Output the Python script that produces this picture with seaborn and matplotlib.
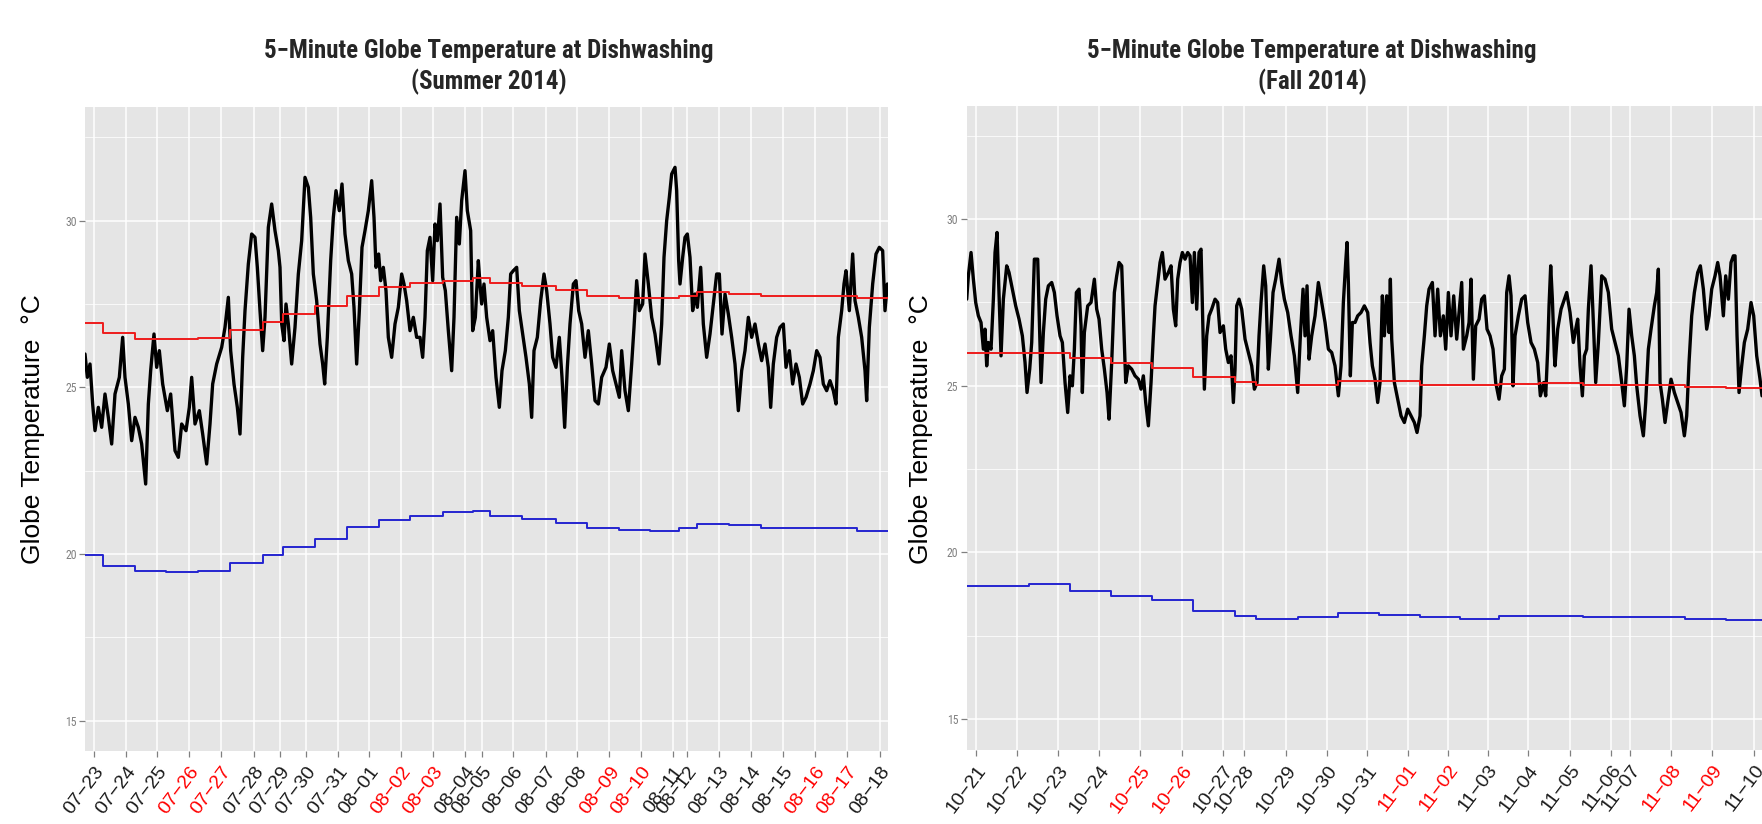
import matplotlib
matplotlib.use("Agg")
import matplotlib.pyplot as plt
from matplotlib import font_manager
import numpy as np
import pandas as pd
import seaborn as sns

# ---------------- data (x = 5-minute observation index) ----------------
summer_idx = [0,21,45,69,90,120,150,180,210,240,270,309,339,360,390,420,450,480,510,546,
              570,591,621,645,669,699,741,771,810,840,870,909,939,960,990,1029,1059,1095,1125,1149,
              1185,1230,1260,1290,1311,1341,1371,1395,1419,1440,1470,1500,1530,1551,1575,1599,1620,1650,1680,1710,1740,
              1755,1770,1791,1809,1830,1860,1890,1920,1950,1980,2010,2031,2055,2085,2115,2139,2157,2181,2211,2235,
              2259,2289,2313,2340,2370,2400,2421,2445,2469,2493,2520,2550,2580,2601,2619,2643,2661,2685,2709,2730,
              2760,2790,2820,2850,2871,2895,2925,2955,2985,3015,3039,3060,3081,3105,3129,3150,3171,3195,3219,3243,
              3270,3300,3321,3345,3369,3390,3420,3441,3471,3489,3513,3540,
              3555,3570,3591,3615,3645,3669,3699,3729,3753,3783,3810,3831,3855,3885,3909,3939,3969,3999,4020,4041,
              4071,4101,4131,4155,4185,4209,4239,4269,4293,4317,4341,4365,4395,4419,4443,4470,4500,4530,4560,4590,
              4620,4650,4689,4719,4749,4779,4809,4830,4860,4890,4920,4941,4965,4989,5019,5040,5070,5100,5130,5166,
              5190,5211,5235,5259,5280,5310,5325,5343,
              5355,5379,5400,5421,5445,5469,5490,5511,5541,5565,5595,5625,5655,5685,5709,5733,5760,5790,5820,5850,
              5880,5910,5940,5970,6000,6030,6060,6090,6120,6150,6171,6195,6225,6255,6285,6309,6339,6369,6399,6429,
              6459,6489,6525,6555,6585,6615,6645,6675,6705,6735,6759,6780,6810,6831,6849,6879,6909,6930,6960,6990,
              7020,7035,7059,7089,7119,7149,7179,7200,7221]
summer_temp = [26.0,25.3,25.7,24.5,23.7,24.4,23.8,24.8,24.1,23.3,24.8,25.3,26.5,25.3,24.5,23.4,24.1,23.8,23.3,22.1,
               24.5,25.5,26.6,25.6,26.1,25.1,24.3,24.8,23.1,22.9,23.9,23.7,24.4,25.3,23.9,24.3,23.6,22.7,23.9,25.1,
               25.7,26.2,26.8,27.7,26.1,25.1,24.4,23.6,25.9,27.3,28.7,29.6,29.5,28.6,27.3,26.1,27.1,29.8,30.5,29.7,29.1,
               28.6,26.9,26.4,27.5,26.9,25.7,26.8,28.4,29.4,31.3,31.0,30.1,28.4,27.6,26.3,25.7,25.1,26.5,28.8,30.1,
               30.9,30.3,31.1,29.6,28.8,28.4,27.4,25.7,27.3,29.2,29.7,30.3,31.2,30.1,28.6,29.0,28.2,28.6,27.9,26.5,
               25.9,26.9,27.4,28.4,28.1,27.6,26.7,27.1,26.5,26.5,25.9,27.1,29.1,29.5,28.2,29.9,29.4,30.5,28.3,27.9,
               26.7,25.5,27.1,30.1,29.3,30.6,31.5,30.3,29.7,26.7,27.1,28.8,
               28.1,27.5,28.1,27.1,26.4,26.7,25.3,24.4,25.5,26.1,27.1,28.4,28.5,28.6,27.3,26.6,25.9,25.1,24.1,26.1,
               26.5,27.6,28.4,27.9,26.9,25.9,25.6,26.5,25.3,23.8,25.6,26.9,28.1,28.2,27.3,26.9,25.9,26.7,25.7,24.6,
               24.5,25.3,25.6,26.3,25.5,25.1,24.7,26.1,24.9,24.3,25.7,26.8,28.2,27.3,27.5,29.0,28.1,27.1,26.6,25.7,
               26.9,28.9,30.0,30.7,31.4,31.6,30.9,28.8,
               28.1,28.9,29.5,29.6,28.9,27.3,27.8,27.4,28.6,26.9,25.9,26.6,27.5,28.4,28.4,26.6,27.8,27.2,26.5,25.7,
               24.3,25.5,26.1,27.1,26.5,26.9,26.3,25.8,26.3,25.6,24.4,25.7,26.5,26.8,26.9,25.6,26.1,25.1,25.7,25.3,
               24.5,24.7,25.1,25.5,26.1,25.9,25.1,24.9,25.2,24.9,24.5,26.5,27.3,28.1,28.5,27.3,29.0,27.6,27.1,26.5,
               25.5,24.6,26.8,28.1,29.0,29.2,29.1,27.3,28.1]

fall_idx = [0,15,39,60,81,105,129,150,165,180,195,219,240,255,273,291,309,330,360,381,
            411,441,471,501,525,543,567,585,609,639,651,669,690,711,735,765,789,813,840,861,
            885,909,930,951,969,987,1011,1029,1041,1059,1089,1119,1149,1170,1191,1215,1239,1263,1281,1305,
            1329,1350,1371,1395,1410,1431,1455,1485,1515,1545,1569,1590,1611,1635,1659,1680,
            1695,1719,1740,1761,1785,1815,1839,1860,1881,1899,1920,1941,1965,1989,2010,2031,2049,2070,2091,2109,
            2121,2139,2160,2181,2205,2235,2259,2280,2310,2331,2355,2379,2400,2415,2430,2451,2475,2505,2535,2565,
            2589,2613,2631,2649,2673,2691,2715,2733,2757,2781,2811,2835,2859,2889,2919,2949,2979,3003,3027,3045,
            3063,3081,3105,3135,3165,3195,3225,3255,3285,3315,3345,3369,3390,3411,3423,3435,3453,3471,
            3495,3519,3549,3579,3609,3630,3651,3675,3699,3720,3741,3759,3780,3801,3813,3825,3849,3879,3909,3939,
            3969,3999,4029,4053,4080,4095,4119,4140,4161,4191,4215,4239,4263,4290,4311,4335,4359,4383,4410,4431,
            4455,4470,4500,4521,4539,4560,4581,4611,4635,4659,4683,4710,4737,4761,4791,4815,4839,4860,4881,4899,
            4917,4935,4965,4995,5025,5049,5079,5109,5139,5163,5193,5211,5229,5241,5256,5271,5289,
            5295,5319,5349,5379,5400,5430,5460,5481,5499,5520,5541,5559,5580,5595,5619,5640,5661,5685,5715,5745,
            5775,5805,5835,5865,5895,5919,5940,5961,5985,6009,6030,6060,6090,6111,6135,6159,6189,6210,6225,6240,
            6261,6285,6309,6339,6369,6399,6429,6459,6480,6501,6525,6549,6579,6603,6630,6660,6681,6705,6735,6759,
            6780,6810,6831,6855,6879,6900,6915,6933,6951,6975,6999,7029,7059,7083,7110,7140,7158]
fall_temp = [27.6,28.3,29.0,28.2,27.5,27.1,26.9,26.1,26.7,25.6,26.3,26.1,27.6,29.0,29.6,27.8,25.9,27.6,28.6,28.4,
             27.9,27.4,27.0,26.5,25.7,24.8,25.5,26.3,28.8,28.8,27.3,25.1,26.6,27.6,28.0,28.1,27.8,27.1,26.5,26.3,
             25.1,24.2,25.3,25.0,26.1,27.8,27.9,26.8,24.8,26.6,27.4,27.5,28.2,27.3,27.0,26.1,25.5,24.8,24.0,25.7,
             27.8,28.3,28.7,28.6,27.1,25.1,25.6,25.5,25.3,25.2,24.9,25.3,24.5,23.8,25.1,26.5,
             27.4,28.1,28.7,29.0,28.2,28.4,28.6,27.3,26.8,28.2,28.7,29.0,28.8,29.0,28.9,27.5,29.0,27.3,29.0,29.1,
             27.4,24.9,26.5,27.1,27.3,27.6,27.5,26.6,26.8,26.1,25.7,25.9,24.5,25.5,27.4,27.6,27.3,26.4,26.0,25.6,
             24.9,25.1,26.5,27.5,28.6,28.0,25.5,26.4,27.8,28.2,28.8,28.1,27.6,27.2,26.5,25.9,24.8,26.5,27.9,26.5,
             28.0,25.8,26.5,27.1,28.1,27.5,26.9,26.1,26.0,25.6,24.7,25.6,27.5,28.7,29.3,28.1,25.3,26.9,
             26.9,27.1,27.2,27.4,27.2,26.3,25.6,25.2,24.5,25.1,27.7,26.5,27.7,26.6,28.2,26.4,25.1,24.6,24.1,23.9,
             24.3,24.1,23.9,23.6,24.1,25.6,26.5,27.4,27.9,28.1,26.5,27.9,26.5,27.1,26.1,27.8,26.5,27.7,26.4,27.2,
             28.1,26.1,26.5,26.9,28.2,25.2,26.8,27.0,27.6,27.7,26.7,26.5,26.1,25.1,24.6,25.3,25.5,27.8,28.3,27.7,
             25.0,26.5,27.1,27.6,27.7,26.9,26.3,26.1,25.7,24.7,25.1,24.7,26.1,27.4,28.6,27.6,25.9,
             25.6,26.7,27.3,27.6,27.8,27.2,26.3,26.7,27.0,25.6,24.7,25.9,26.1,27.3,28.6,26.9,25.1,26.3,28.3,28.2,
             27.8,26.7,26.3,25.9,25.1,24.4,25.6,27.3,26.5,25.9,25.0,24.1,23.5,24.5,26.1,26.7,27.4,27.8,28.5,25.1,
             24.6,23.9,24.5,25.2,24.8,24.5,24.2,23.5,24.1,25.7,27.1,27.8,28.4,28.6,27.9,26.7,27.1,27.9,28.3,28.7,
             28.3,27.1,28.3,27.6,28.7,28.9,28.9,26.5,24.8,25.6,26.3,26.7,27.5,27.1,25.9,25.2,24.7]

# daily step series (edges in observation index, one level per segment)
summer_edges = [159,450,729,1017,1305,1602,1782,2070,2358,2643,2921,3219,3489,3645,3933,4235,4514,4803,
                5085,5342,5508,5792,6084,6372,6660,6948]
summer_red = [26.92,26.64,26.44,26.44,26.47,26.71,26.96,27.20,27.44,27.75,28.00,28.12,28.20,28.29,28.12,
              28.04,27.92,27.75,27.68,27.68,27.75,27.87,27.80,27.75,27.75,27.75,27.68]
summer_blue = [19.98,19.65,19.49,19.45,19.49,19.74,19.98,20.21,20.45,20.81,21.01,21.14,21.25,21.29,21.14,
               21.06,20.93,20.77,20.73,20.69,20.77,20.90,20.86,20.78,20.78,20.78,20.69]
fall_edges = [189,563,932,1299,1668,2041,2415,2608,2979,3346,3708,4080,4440,4791,5151,5547,5907,6078,6465,6838]
fall_red = [25.99,25.99,25.99,25.82,25.69,25.52,25.25,25.10,25.02,25.02,25.13,25.13,25.02,25.02,25.04,
            25.09,25.02,25.02,25.02,24.97,24.94]
fall_blue = [19.00,19.00,19.05,18.85,18.69,18.57,18.25,18.09,18.01,18.05,18.17,18.12,18.05,18.01,18.09,
             18.09,18.05,18.05,18.05,18.01,17.97]

# tick breaks (observation index of each date) and dates
summer_ticks = [81,369,645,933,1221,1521,1755,1989,2280,2553,2841,3129,3420,3570,3849,4149,4431,4719,
                5007,5295,5421,5709,5997,6279,6567,6861,7155]
summer_dates = pd.date_range("2014-07-23", "2014-08-18", freq="D")
fall_ticks = [81,455,824,1191,1560,1935,2304,2496,2871,3240,3600,3969,4334,4689,5054,5430,5799,5970,
              6339,6710,7088]
fall_dates = pd.date_range("2014-10-21", "2014-11-10", freq="D")

titles = ["5\u2212Minute Globe Temperature at Dishwashing\n(Summer 2014)",
          "5\u2212Minute Globe Temperature at Dishwashing\n(Fall 2014)"]
ylabel = "Globe Temperature  \u00b0C"

# ---------------- styling ----------------
sns.set_theme(style="darkgrid")
plt.rcParams['font.family'] = ['Liberation Sans', 'DejaVu Sans']

def have(name):
    try:
        font_manager.findfont(font_manager.FontProperties(family=name), fallback_to_default=False)
        return True
    except Exception:
        return False

narrow = None
for cand in ['Liberation Sans Narrow', 'Roboto Condensed', 'Open Sans Condensed']:
    if have(cand):
        narrow = cand
        break
title_family = [narrow, 'Liberation Sans'] if narrow else ['Liberation Sans']
title_size = 18 if narrow else 15.8

W, H = 1762, 824
fig = plt.figure(figsize=(W / 100, H / 100), dpi=100)
fig.patch.set_facecolor("white")

XMAX = 7227
YLIM = (14.09, 33.41)

panels = [
    dict(rect=[85 / W, 1 - 751 / H, 803 / W, 644 / H], idx=summer_idx, temp=summer_temp,
         edges=summer_edges, red=summer_red, blue=summer_blue, ticks=summer_ticks, dates=summer_dates,
         title=titles[0], tx=489, lx=33),
    dict(rect=[966.7 / W, 1 - 749.5 / H, 803 / W, 644 / H], idx=fall_idx, temp=fall_temp,
         edges=fall_edges, red=fall_red, blue=fall_blue, ticks=fall_ticks, dates=fall_dates,
         title=titles[1], tx=1312, lx=921),
]

for p in panels:
    ax = fig.add_axes(p["rect"])
    ax.set_facecolor("#E5E5E5")
    for s in ax.spines.values():
        s.set_visible(False)

    df = pd.DataFrame({"idx": p["idx"], "temp": p["temp"]})
    sns.lineplot(data=df, x="idx", y="temp", ax=ax, color="black", linewidth=2.4,
                 estimator=None, sort=False, legend=False)

    step_x = [0] + p["edges"] + [XMAX]
    for vals, col in [(p["red"], "#EE1C1C"), (p["blue"], "#2424D0")]:
        step_y = list(vals) + [vals[-1]]
        sdf = pd.DataFrame({"x": step_x, "y": step_y})
        sns.lineplot(data=sdf, x="x", y="y", ax=ax, color=col, linewidth=1.4,
                     drawstyle="steps-post", estimator=None, sort=False, legend=False)

    ax.set_xlim(0, XMAX)
    ax.set_ylim(*YLIM)
    ax.set_yticks([15, 20, 25, 30])
    ax.set_yticks([17.5, 22.5, 27.5, 32.5], minor=True)
    ax.set_yticklabels(["15", "20", "25", "30"], fontsize=8.5, color="#808080",
                       family=title_family)
    labels = [d.strftime("%m\u2212%d") for d in p["dates"]]
    ax.set_xticks(p["ticks"])
    ax.set_xticklabels(labels, rotation=53, ha="right", va="top", rotation_mode="anchor",
                       fontsize=14)
    for lab, d in zip(ax.get_xticklabels(), p["dates"]):
        lab.set_color("#FF0000" if d.dayofweek >= 5 else "#1A1A1A")

    ax.grid(False)
    ax.grid(True, which="major", color="white", linewidth=1.1)
    ax.grid(True, which="minor", axis="y", color="white", linewidth=0.55)
    ax.tick_params(axis="both", which="major", length=4, width=0.9, color="#808080",
                   bottom=True, left=True)
    ax.tick_params(axis="y", which="minor", length=0)
    ax.tick_params(axis="x", pad=5)
    ax.tick_params(axis="y", pad=2)
    ax.set_xlabel("")
    ax.set_ylabel("")

    fig.text(p["tx"] / W, 1 - 67 / H, p["title"], ha="center", va="center",
             fontsize=title_size, fontweight="bold", family=title_family, linespacing=1.3)
    fig.text(p["lx"] / W, 1 - 429 / H, ylabel, rotation=90, ha="center", va="center",
             fontsize=19, color="#000000")

fig.savefig("out.png", dpi=100)
